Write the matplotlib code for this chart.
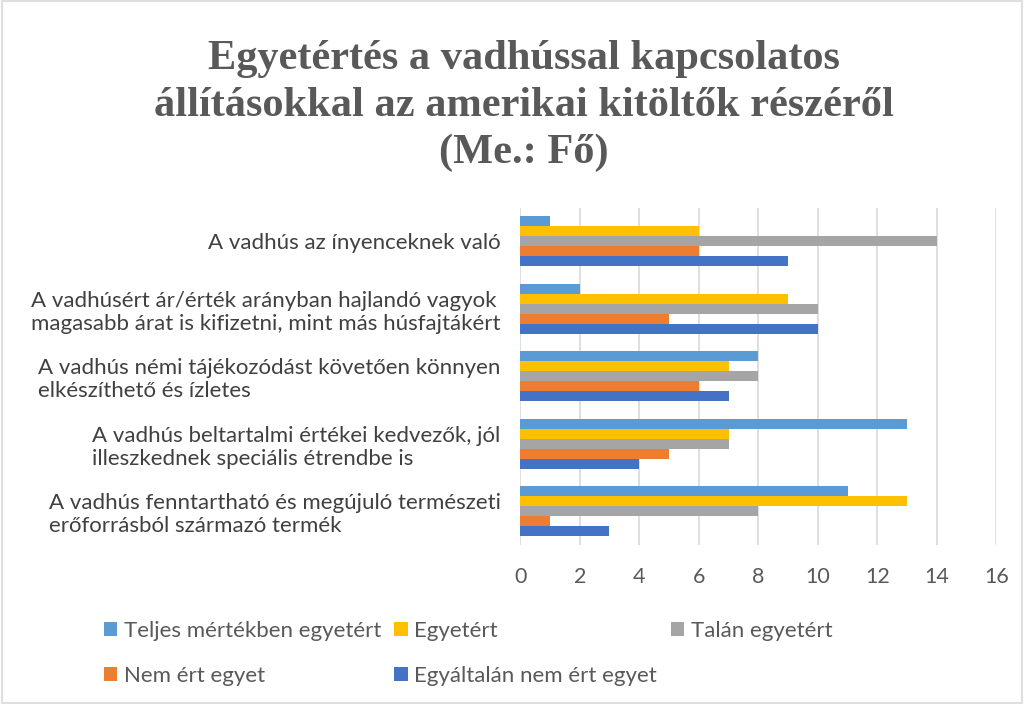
import matplotlib
matplotlib.use("Agg")
import matplotlib.pyplot as plt
import numpy as np

categories = [
    "A vadhús az ínyenceknek való",
    "A vadhúsért ár/érték arányban hajlandó vagyok\nmagasabb árat is kifizetni, mint más húsfajtákért",
    "A vadhús némi tájékozódást követően könnyen\nelkészíthető és ízletes",
    "A vadhús beltartalmi értékei kedvezők, jól\nilleszkednek speciális étrendbe is",
    "A vadhús fenntartható és megújuló természeti\nerőforrásból származó termék",
]
series_names = [
    "Teljes mértékben egyetért",
    "Egyetért",
    "Talán egyetért",
    "Nem ért egyet",
    "Egyáltalán nem ért egyet",
]
teljes = [1, 2, 8, 13, 11]
egyetert = [6, 9, 7, 7, 13]
talan = [14, 10, 8, 7, 8]
nem = [6, 5, 6, 5, 1]
egyaltalan = [9, 10, 7, 4, 3]
xticks = [0, 2, 4, 6, 8, 10, 12, 14, 16]

COLORS = ["#5B9BD5", "#FFC000", "#A5A5A5", "#ED7D31", "#4472C4"]
TXT = "#595959"
FONT = "Lato"

fig = plt.figure(figsize=(10.24, 7.04), dpi=100)
fig.patch.set_facecolor("white")
ax = fig.add_axes([0.508, 0.226, 0.465, 0.479])

series = [teljes, egyetert, talan, nem, egyaltalan]
n = len(categories)
y = np.arange(n)
h = 0.148
handles = []
for i, (vals, c, name) in enumerate(zip(series, COLORS, series_names)):
    offs = (i - 2) * h
    b = ax.barh(y + offs, vals, height=h, color=c, label=name, zorder=3)
    handles.append(b)

ax.set_ylim(n - 0.5, -0.5)
ax.set_xlim(0, 16)
ax.set_xticks(xticks)
ax.set_xticklabels([str(t) for t in xticks], fontsize=15.5, color=TXT, family=FONT)
ax.set_yticks(y)
ax.set_yticklabels(categories, fontsize=16, color="#404040", family=FONT,
                   ha="right", multialignment="left")
ax.tick_params(axis="both", length=0)
ax.tick_params(axis="x", pad=16)
ax.tick_params(axis="y", pad=14)
ax.grid(axis="x", color="#D9D9D9", linewidth=1.2, zorder=0)
for s in ax.spines.values():
    s.set_visible(False)

fig.text(0.512, 0.849,
         "Egyetértés a vadhússal kapcsolatos\nállításokkal az amerikai kitöltők részéről\n(Me.: Fő)",
         ha="center", va="center", fontsize=30.5, weight="bold", color=TXT,
         family="Liberation Serif", linespacing=1.3)

# matplotlib fills legend columns first, so reorder to read row by row
order = [0, 3, 1, 4, 2]
leg = fig.legend([handles[i] for i in order], [series_names[i] for i in order],
                 ncol=3, loc="center", bbox_to_anchor=(0.457, 0.072),
                 frameon=False, prop={"family": FONT, "size": 16},
                 handlelength=0.6, handleheight=0.6, handletextpad=0.3,
                 labelspacing=1.1, columnspacing=0.6)
for t in leg.get_texts():
    t.set_color(TXT)

fig.add_artist(plt.Rectangle((0.002, 0.002), 0.996, 0.996, fill=False,
                             edgecolor="#D9D9D9", linewidth=1.2,
                             transform=fig.transFigure))

fig.savefig("out.png", dpi=100, facecolor="white")
